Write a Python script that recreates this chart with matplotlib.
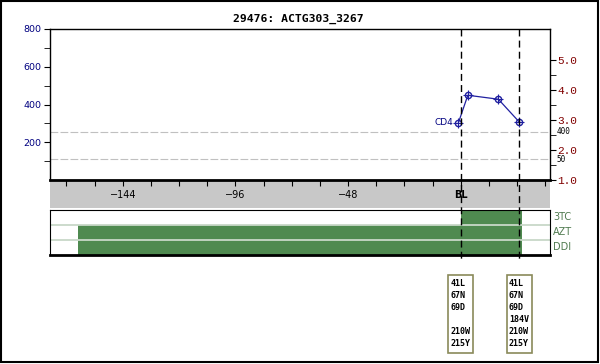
import numpy as np
import matplotlib
matplotlib.use("Agg")
import matplotlib.pyplot as plt
from matplotlib.patches import Rectangle
from matplotlib.lines import Line2D
from matplotlib.transforms import blended_transform_factory

# data
weeks = [-1, 3, 16, 25]
cd4 = [304, 449, 428, 306]
vl_limits = [400, 50]
visits = [0, 25]
drugs = ["3TC", "AZT", "DDI"]
drug_start = [0, -163, -163]
drug_stop = [26, 26, 26]
mutations = [
    ["41L", "67N", "69D", "", "210W", "215Y"],
    ["41L", "67N", "69D", "184V", "210W", "215Y"],
]
x_labels = {-144: "\u2212144", -96: "\u221296", -48: "\u221248", 0: "BL"}

W, H = 600, 364
NAVY = "#000080"
DRED = "#800000"
GREEN = "#4f8a50"


def px_rect(x0, y0, x1, y1):
    return [x0 / W, 1 - y1 / H, (x1 - x0) / W, (y1 - y0) / H]


def fy(y):
    return 1 - y / H


fig = plt.figure(figsize=(W / 100, H / 100), dpi=100)
fig.patch.set_facecolor("white")

xlim = (-175, 38)

# grey band with x labels
band = fig.add_axes(px_rect(50, 180, 550, 208))
band.set_facecolor("#c8c8c8")
band.set_xlim(*xlim)
band.set_ylim(0, 1)
for s in band.spines.values():
    s.set_visible(False)
band.set_xticks([])
band.set_yticks([])
for xv, lab in x_labels.items():
    band.text(xv, 0.48, lab, ha="center", va="center", fontsize=7,
              fontweight="bold" if lab == "BL" else "normal")

# main CD4 axes
ax = fig.add_axes(px_rect(50, 29, 550, 180))
ax.set_xlim(*xlim)
ax.set_ylim(0, 800)
ax.set_xticks(np.arange(-168, 37, 12))
ax.tick_params(axis="x", length=4, labelbottom=False, direction="out")
ax.set_yticks([200, 400, 600, 800])
ax.set_yticks([100, 300, 500, 700], minor=True)
ax.tick_params(axis="y", which="both", length=4, labelsize=6.8, labelcolor=NAVY, pad=2)
ax.spines["bottom"].set_linewidth(2)
for s in ["top", "left", "right"]:
    ax.spines[s].set_linewidth(1)

ax.plot(weeks, cd4, color="#2020a0", lw=0.9, marker="o", ms=4.5,
        mfc="none", mec="#2020a0", mew=1, zorder=5)
ax.plot(weeks, cd4, ls="none", marker="+", ms=7.5, mec="#2020a0", mew=0.8, zorder=5)
ax.annotate("CD4", xy=(weeks[0], cd4[0]), xytext=(-4, 0), textcoords="offset points",
            ha="right", va="center", fontsize=6.5, color=NAVY)

# viral load axis on the right
ax2 = ax.twinx()
ax2.set_ylim(1, 1 + 151 / 30)
ax2.set_yticks([1, 2, 3, 4, 5])
ax2.set_yticks([1.5, 2.5, 3.5, 4.5], minor=True)
ax2.set_yticklabels(["%.1f" % v for v in [1, 2, 3, 4, 5]],
                    family="Liberation Mono", fontsize=8, color=DRED)
ax2.tick_params(axis="y", which="both", length=4, pad=1.5)
for s in ax2.spines.values():
    s.set_visible(False)
for lim in vl_limits:
    ax2.axhline(np.log10(lim), color="#c0c0c0", lw=0.8, dashes=(7, 2), zorder=0)
    ax2.text(1.013, np.log10(lim), str(lim), transform=ax2.get_yaxis_transform(),
             ha="left", va="center", fontsize=5.5, family="DejaVu Sans Mono")
ax.set_zorder(ax2.get_zorder() + 1)
ax.patch.set_visible(False)

fig.text(0.498, fy(19), "29476: ACTG303_3267", ha="center", va="center",
         family="DejaVu Sans Mono", fontweight="bold", fontsize=8.2)

# drug panel
dp = fig.add_axes(px_rect(50, 210, 550, 255))
dp.set_xlim(*xlim)
dp.set_ylim(len(drugs), 0)
for i, d in enumerate(drugs):
    dp.barh(i + 0.5, drug_stop[i] - drug_start[i], left=drug_start[i], height=1,
            color=GREEN, lw=0)
    dp.text(1.006, i + 0.5, d, transform=dp.get_yaxis_transform(), ha="left",
            va="center", fontsize=7, color="#4f7a4f")
for r in range(1, len(drugs)):
    dp.axhline(r, color="#c8d8c8", lw=1.3)
dp.set_xticks([])
dp.set_yticks([])
dp.spines["bottom"].set_linewidth(2)

# dashed visit lines
tr = blended_transform_factory(ax.transData, fig.transFigure)
for v in visits:
    fig.add_artist(Line2D([v, v], [fy(29), fy(259)], transform=tr, color="black",
                          lw=1, dashes=(5, 3), zorder=10))

# mutation boxes
half_w = 12.5 / 2.347
for v, muts in zip(visits, mutations):
    fig.add_artist(Rectangle((v - half_w, fy(353)), 2 * half_w, fy(275) - fy(353),
                             transform=tr, fill=False, ec="#8a8a5a", lw=1.2))
    for k, m in enumerate(muts):
        fig.text(v - half_w + 0.8, fy(283 + 12 * k), m, transform=tr, ha="left",
                 va="center", family="DejaVu Sans Mono", fontweight="bold", fontsize=6)

# outer frame
fig.add_artist(Rectangle((0.5 / W, fy(361.5)), 597 / W, fy(0.5) - fy(361.5),
                         transform=fig.transFigure, fill=False, ec="black", lw=1.5))

fig.savefig("out.png", dpi=100)
